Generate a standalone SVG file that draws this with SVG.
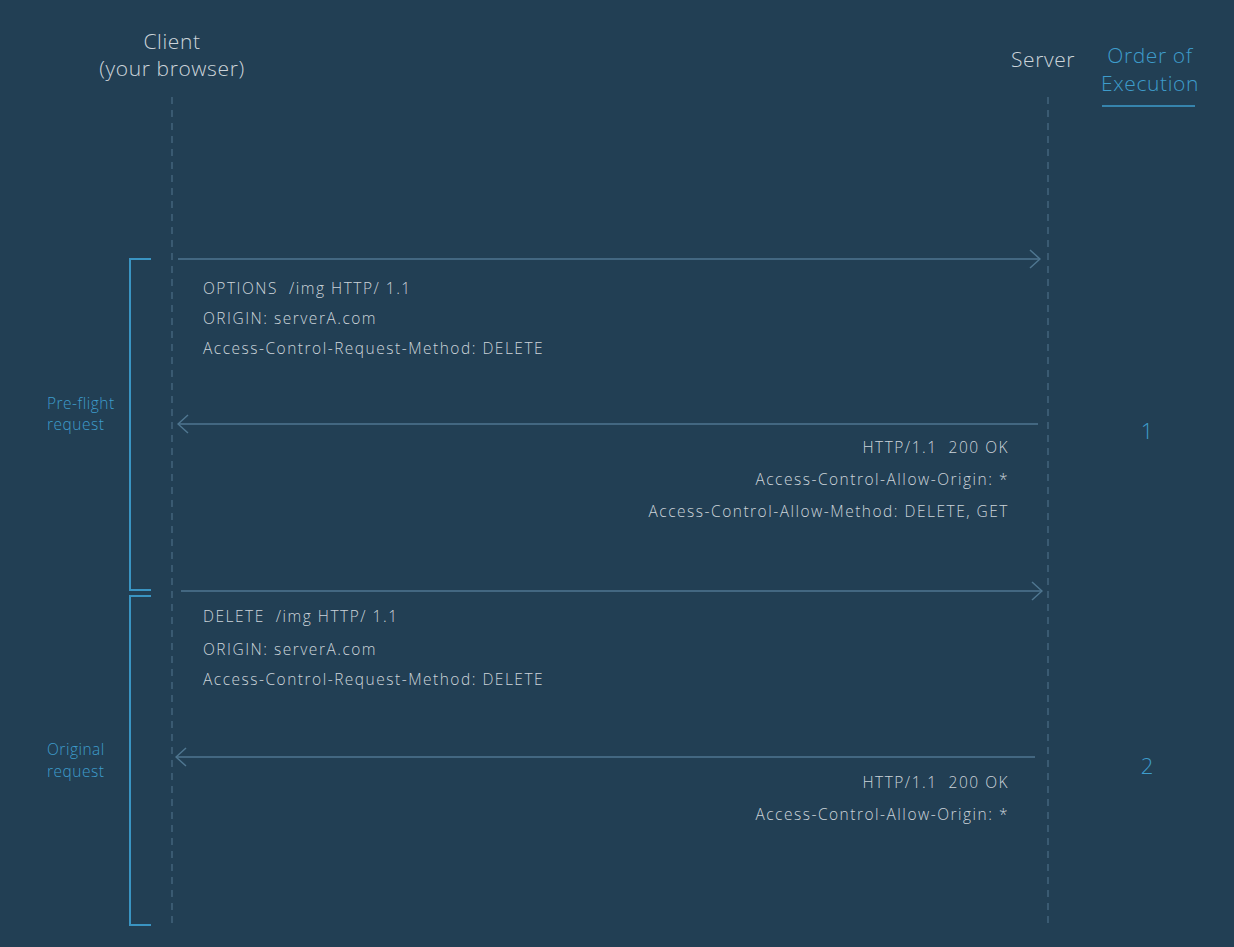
<svg xmlns="http://www.w3.org/2000/svg" width="1234" height="947" viewBox="0 0 1234 947">
<defs>
<style>
.t{font-family:"Open Sans","Liberation Sans",sans-serif;font-weight:300;fill:#ccd4da;white-space:pre}
.h{font-size:21px;letter-spacing:0.6px}
.b{font-size:15.5px;letter-spacing:1.5px}
.bl{font-family:"Open Sans","Liberation Sans",sans-serif;font-weight:300;fill:#3e9ccb}
.lb{font-size:15.5px;letter-spacing:0.5px}
.life{stroke:#4b6d86;stroke-width:1.2;stroke-dasharray:7,6;fill:none}
.arr{stroke:#4f7690;stroke-width:1.5;fill:none}
.br{stroke:#3a94c2;stroke-width:2;fill:none}
</style>
<marker id="ah" viewBox="0 0 12 20" refX="11" refY="10" markerWidth="12" markerHeight="20" markerUnits="userSpaceOnUse" orient="auto">
<path d="M1,1 L11,10 L1,19" stroke="#4f7690" stroke-width="1.5" fill="none"/>
</marker>
</defs>
<rect width="1234" height="947" fill="#223f54"/>

<g id="client">
<text class="t h" x="172" y="49" text-anchor="middle">Client</text>
<text class="t h" x="172" y="76" text-anchor="middle">(your browser)</text>
<line class="life" x1="172" y1="97" x2="172" y2="925"/>
</g>

<g id="server">
<text class="t h" x="1043" y="67" text-anchor="middle">Server</text>
<line class="life" x1="1048" y1="97" x2="1048" y2="925"/>
</g>

<g id="order">
<text class="bl h" x="1150" y="63" text-anchor="middle">Order of</text>
<text class="bl h" x="1150" y="91" text-anchor="middle">Execution</text>
<line x1="1102" y1="106" x2="1195" y2="106" stroke="#3e9ccb" stroke-width="1.5"/>
</g>

<g id="preflight">
<path class="br" d="M151,259 H130 V590 H151"/>
<text class="bl lb" x="47" y="409">Pre-flight</text>
<text class="bl lb" x="47" y="430">request</text>
<text class="bl" x="1147" y="439" font-size="22" text-anchor="middle">1</text>
</g>

<g id="original">
<path class="br" d="M151,596 H130 V925 H151"/>
<text class="bl lb" x="47" y="755">Original</text>
<text class="bl lb" x="47" y="777">request</text>
<text class="bl" x="1147" y="774" font-size="22" text-anchor="middle">2</text>
</g>

<g id="msg1">
<text class="t b" x="203" y="294">OPTIONS  /img HTTP/ 1.1</text>
<text class="t b" x="203" y="324">ORIGIN: serverA.com</text>
<text class="t b" x="203" y="354">Access-Control-Request-Method: DELETE</text>
</g>
<g id="msg2">
<text class="t b" x="1009" y="453" text-anchor="end">HTTP/1.1  200 OK</text>
<text class="t b" x="1009" y="485" text-anchor="end">Access-Control-Allow-Origin: *</text>
<text class="t b" x="1009" y="517" text-anchor="end">Access-Control-Allow-Method: DELETE, GET</text>
</g>
<g id="msg3">
<text class="t b" x="203" y="622">DELETE  /img HTTP/ 1.1</text>
<text class="t b" x="203" y="655">ORIGIN: serverA.com</text>
<text class="t b" x="203" y="685">Access-Control-Request-Method: DELETE</text>
</g>
<g id="msg4">
<text class="t b" x="1009" y="788" text-anchor="end">HTTP/1.1  200 OK</text>
<text class="t b" x="1009" y="820" text-anchor="end">Access-Control-Allow-Origin: *</text>
</g>

<g id="connectors">
<line class="arr" x1="178" y1="259" x2="1040" y2="259" marker-end="url(#ah)"/>
<line class="arr" x1="1038" y1="424" x2="178" y2="424" marker-end="url(#ah)"/>
<line class="arr" x1="181" y1="591" x2="1042" y2="591" marker-end="url(#ah)"/>
<line class="arr" x1="1035" y1="757" x2="176" y2="757" marker-end="url(#ah)"/>
</g>
</svg>
